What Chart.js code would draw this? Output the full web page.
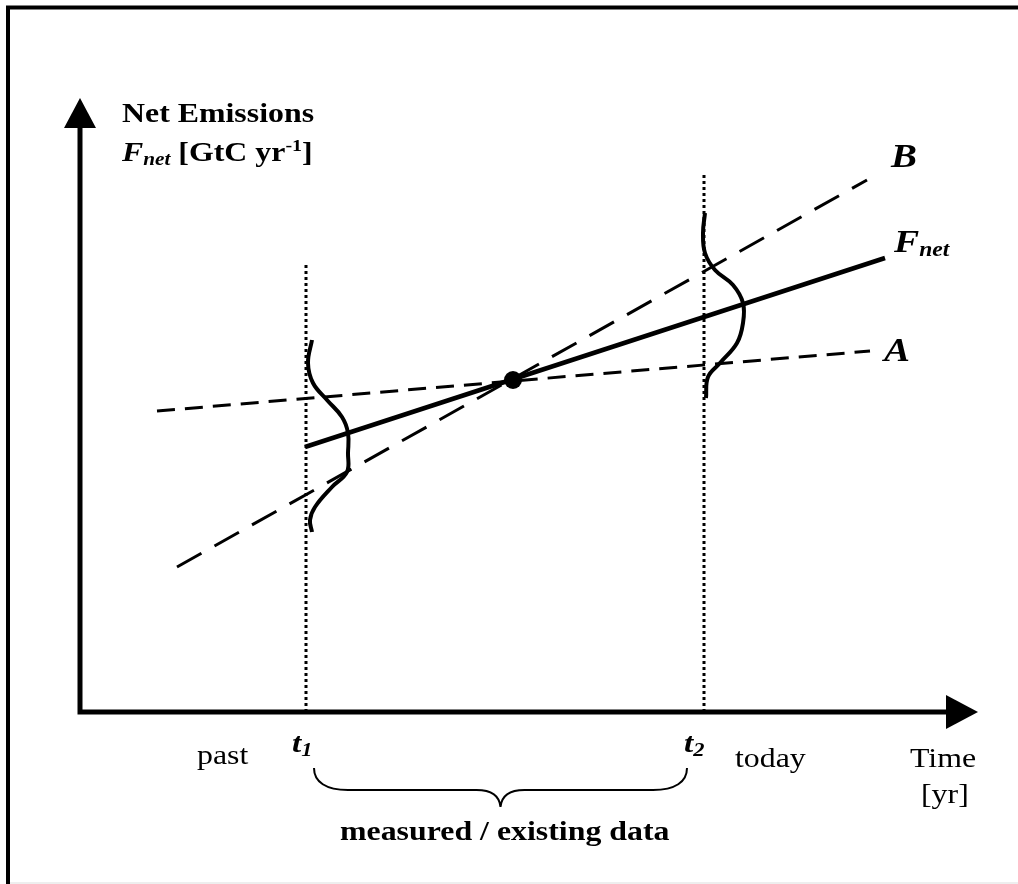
<!DOCTYPE html>
<html>
<head>
<meta charset="utf-8">
<script src="https://cdn.jsdelivr.net/npm/chart.js@4/dist/chart.umd.min.js"></script>
<style>
  html, body { margin: 0; padding: 0; background: #fff; }
  #wrap { width: 1018px; height: 884px; }
</style>
</head>
<body>
<div id="wrap"><canvas id="chart" width="1018" height="884"></canvas></div>
<script>
// schematic values (arbitrary time / emission units)
const tMarks = [2.26, 6.24];          // t1, t2
const tMarkTops = [4.50, 5.40];       // where the dotted verticals stop
const fnetX = [2.25, 8.05];
const fnetY = [2.65, 4.54];
const lineAX = [0.77, 7.90];
const lineAY = [3.01, 3.61];
const lineBX = [0.97, 7.87];
const lineBY = [1.45, 5.32];
const pivotX = [4.33];
const pivotY = [3.32];
// uncertainty curves drawn at t1 and t2
const dist1X = [2.32, 2.28, 2.33, 2.47, 2.62, 2.68, 2.68, 2.67, 2.52, 2.35, 2.30, 2.32];
const dist1Y = [3.72, 3.49, 3.29, 3.12, 2.95, 2.79, 2.59, 2.40, 2.25, 2.05, 1.92, 1.80];
const dist2X = [6.25, 6.23, 6.25, 6.35, 6.53, 6.63, 6.63, 6.57, 6.40, 6.28, 6.26];
const dist2Y = [4.99, 4.79, 4.59, 4.42, 4.27, 4.09, 3.89, 3.69, 3.49, 3.35, 3.14];
const axisEnd = { x: 8.98, y: 6.14 };

const FONT = '"Liberation Serif", "Times New Roman", serif';
const STRETCH = 1.18;

function pts(xs, ys) {
  return xs.map((x, i) => ({ x: x, y: ys[i] }));
}

function line(data, width, dash, extra) {
  return Object.assign({
    data: data,
    showLine: true,
    borderColor: '#000',
    backgroundColor: '#000',
    borderWidth: width,
    borderDash: dash || [],
    pointRadius: 0,
    tension: 0
  }, extra || {});
}

// draws a run of text pieces, each with its own font and baseline shift
function rich(ctx, x, y, parts) {
  let cx = x;
  parts.forEach(p => {
    ctx.save();
    ctx.font = p.font;
    ctx.translate(cx, y + (p.dy || 0));
    ctx.scale(STRETCH, 1);
    ctx.fillText(p.text, 0, 0);
    const w = ctx.measureText(p.text).width * STRETCH;
    ctx.restore();
    cx += w + (p.gap || 0);
  });
}

const decor = {
  id: 'decor',
  beforeDatasetsDraw(chart) {
    const ctx = chart.ctx;
    const xs = chart.scales.x, ys = chart.scales.y;
    const ox = xs.getPixelForValue(0), oy = ys.getPixelForValue(0);
    const ex = xs.getPixelForValue(axisEnd.x), ey = ys.getPixelForValue(axisEnd.y);
    ctx.save();
    // frame
    ctx.strokeStyle = '#000';
    ctx.lineWidth = 4;
    ctx.beginPath();
    ctx.moveTo(8, 890);
    ctx.lineTo(8, 7.5);
    ctx.lineTo(1030, 7.5);
    ctx.stroke();
    ctx.strokeStyle = '#eeeeee';
    ctx.lineWidth = 2;
    ctx.beginPath();
    ctx.moveTo(10, 883);
    ctx.lineTo(1018, 883);
    ctx.stroke();
    // axes
    ctx.strokeStyle = '#000';
    ctx.lineWidth = 5;
    ctx.beginPath();
    ctx.moveTo(ox, oy + 2.5);
    ctx.lineTo(ox, ey + 20);
    ctx.moveTo(ox - 2.5, oy);
    ctx.lineTo(ex - 20, oy);
    ctx.stroke();
    ctx.fillStyle = '#000';
    ctx.beginPath();
    ctx.moveTo(ox, ey);
    ctx.lineTo(ox - 16, ey + 30);
    ctx.lineTo(ox + 16, ey + 30);
    ctx.closePath();
    ctx.fill();
    ctx.beginPath();
    ctx.moveTo(ex, oy);
    ctx.lineTo(ex - 32, oy - 17);
    ctx.lineTo(ex - 32, oy + 17);
    ctx.closePath();
    ctx.fill();
    ctx.restore();
  },
  afterDatasetsDraw(chart) {
    const ctx = chart.ctx;
    const xs = chart.scales.x;
    const t1 = xs.getPixelForValue(tMarks[0]);
    const t2 = xs.getPixelForValue(tMarks[1]);
    const bold = s => 'bold ' + s + 'px ' + FONT;
    const bi = s => 'italic bold ' + s + 'px ' + FONT;
    const reg = s => s + 'px ' + FONT;
    ctx.save();
    ctx.fillStyle = '#000';
    ctx.textBaseline = 'alphabetic';
    ctx.textAlign = 'left';

    rich(ctx, 122, 122, [{ text: 'Net Emissions', font: bold(27) }]);
    rich(ctx, 122, 161, [
      { text: 'F', font: bi(27) },
      { text: 'net', font: bi(18), dy: 4 },
      { text: ' [GtC yr', font: bold(27) },
      { text: '-1', font: bold(17), dy: -10 },
      { text: ']', font: bold(27) }
    ]);

    rich(ctx, 891, 167, [{ text: 'B', font: bi(33) }]);
    rich(ctx, 894, 252, [
      { text: 'F', font: bi(32) },
      { text: 'net', font: bi(20), dy: 4 }
    ]);
    rich(ctx, 884, 361, [{ text: 'A', font: bi(33) }]);

    rich(ctx, t1 - 14, 752, [
      { text: 't', font: bi(28) },
      { text: '1', font: bi(19), dy: 4 }
    ]);
    rich(ctx, t2 - 20, 752, [
      { text: 't', font: bi(28) },
      { text: '2', font: bi(19), dy: 4 }
    ]);
    rich(ctx, 197, 764, [{ text: 'past', font: reg(27) }]);
    rich(ctx, 735, 767, [{ text: 'today', font: reg(27) }]);
    rich(ctx, 910, 767, [{ text: 'Time', font: reg(27) }]);
    rich(ctx, 921, 803, [{ text: '[yr]', font: reg(27) }]);

    // brace under the measured period
    const l = t1 + 8, r = t2 - 17, m = (l + r) / 2;
    const top = 768, mid = 790, tip = 807;
    ctx.strokeStyle = '#000';
    ctx.lineWidth = 2;
    ctx.beginPath();
    ctx.moveTo(l, top);
    ctx.bezierCurveTo(l, mid - 8, l + 12, mid, l + 34, mid);
    ctx.lineTo(m - 24, mid);
    ctx.bezierCurveTo(m - 9, mid, m - 1, mid + 6, m, tip);
    ctx.bezierCurveTo(m + 1, mid + 6, m + 9, mid, m + 24, mid);
    ctx.lineTo(r - 34, mid);
    ctx.bezierCurveTo(r - 12, mid, r, mid - 8, r, top);
    ctx.stroke();

    rich(ctx, 340, 840, [{ text: 'measured / existing data', font: bold(27) }]);
    ctx.restore();
  }
};

new Chart(document.getElementById('chart').getContext('2d'), {
  type: 'scatter',
  data: {
    datasets: [
      line(pts([tMarks[0], tMarks[0]], [0, tMarkTops[0]]), 3, [3, 3]),
      line(pts([tMarks[1], tMarks[1]], [0, tMarkTops[1]]), 3, [3, 3]),
      line(pts(lineAX, lineAY), 3, [18, 10]),
      line(pts(lineBX, lineBY), 3, [28, 15]),
      line(pts(fnetX, fnetY), 4.5),
      line(pts(dist1X, dist1Y), 4, [], { tension: 0.4 }),
      line(pts(dist2X, dist2Y), 4, [], { tension: 0.4 }),
      { data: pts(pivotX, pivotY), pointRadius: 9, pointBackgroundColor: '#000', pointBorderWidth: 0, showLine: false }
    ]
  },
  options: {
    responsive: false,
    animation: false,
    layout: { padding: 0, autoPadding: false },
    plugins: { legend: { display: false }, tooltip: { enabled: false } },
    scales: {
      x: { type: 'linear', min: -0.80, max: 9.38, display: false },
      y: { type: 'linear', min: -1.72, max: 7.12, display: false }
    },
    elements: { line: { capBezierPoints: false } }
  },
  plugins: [decor]
});
</script>
</body>
</html>
